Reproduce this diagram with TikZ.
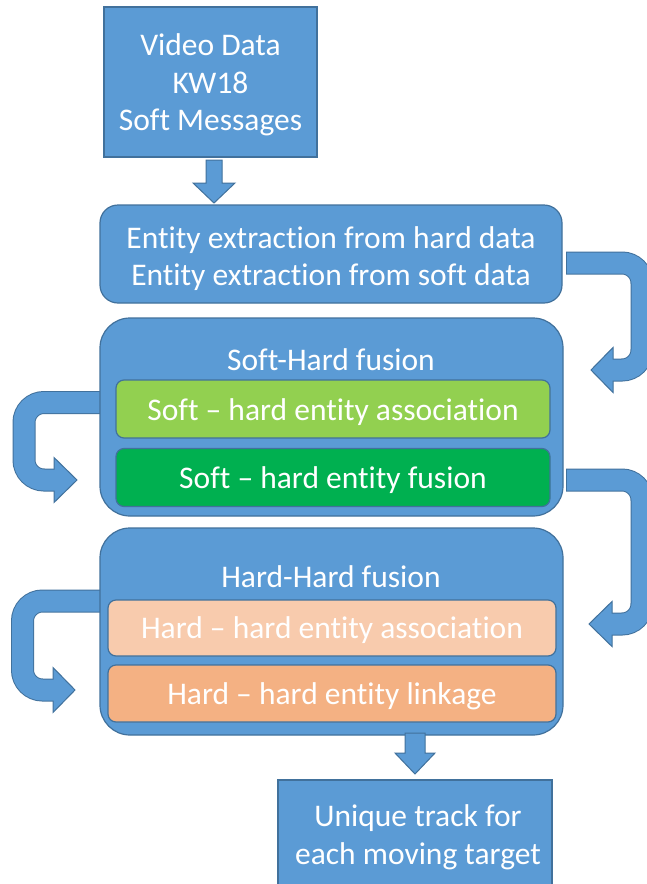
\documentclass[tikz,border=0pt]{standalone}
\usepackage{fontspec}
\setmainfont{Carlito}[Ligatures={NoCommon}]
\definecolor{fillc}{HTML}{5B9BD5}
\definecolor{bord}{HTML}{41719C}
\definecolor{lgreen}{HTML}{92D050}
\definecolor{dgreen}{HTML}{00B050}
\definecolor{peach}{HTML}{F8CBAD}
\definecolor{orng}{HTML}{F4B183}
\newcommand{\bodyfont}{\fontsize{31.5}{37.5}\selectfont}
\tikzset{
  bluebox/.style={draw=bord, fill=fillc, line width=1.2pt, inner sep=0pt},
  innerbox/.style={draw=bord, line width=1.2pt, inner sep=0pt, rounded corners=8pt, minimum width=434pt, minimum height=58pt},
  txt/.style={text=white, font=\bodyfont, align=center, inner sep=0pt},
  shaftout/.style={draw=bord, line width=23pt, rounded corners=20pt},
  shaftin/.style={draw=fillc, line width=21pt, rounded corners=20pt},
  headst/.style={fill=fillc, draw=bord, line width=1pt, line join=miter},
}
\begin{document}
\begin{tikzpicture}[x=1pt,y=-1pt]
\clip (0,0) rectangle (647,884);
\fill[white] (0,0) rectangle (647,884);

% U-turn arrows (drawn first, behind boxes)
% right arrow 1
\coordinate (r1s) at (566,263);
\coordinate (r1h) at (613,370);
\draw[shaftout] (r1s) -- (642,263) -- (642,370) -- (r1h);
\draw[headst] (613,347.5) -- (591,370) -- (613,392.5) -- cycle;
\draw[shaftin] (567,263) -- (642,263) -- (642,370) -- (611,370);
% right arrow 2
\coordinate (r2s) at (566,480);
\coordinate (r2h) at (612,624);
\draw[shaftout] (r2s) -- (642,480) -- (642,624) -- (r2h);
\draw[headst] (612,601.5) -- (589,624) -- (612,646.5) -- cycle;
\draw[shaftin] (567,480) -- (642,480) -- (642,624) -- (610,624);
% left arrow 1
\coordinate (l1s) at (102,402.5);
\coordinate (l1h) at (54,480);
\draw[shaftout] (l1s) -- (24,402.5) -- (24,480) -- (l1h);
\draw[headst] (54,457.5) -- (77,480) -- (54,502.5) -- cycle;
\draw[shaftin] (l1s) -- (24,402.5) -- (24,480) -- (56,480);
% left arrow 2
\coordinate (l2s) at (102,601);
\coordinate (l2h) at (53,690);
\draw[shaftout] (l2s) -- (22.5,601) -- (22.5,690) -- (l2h);
\draw[headst] (53,667.5) -- (75,690) -- (53,712.5) -- cycle;
\draw[shaftin] (l2s) -- (22.5,601) -- (22.5,690) -- (55,690);

% boxes
\node[bluebox, minimum width=213pt, minimum height=150pt] (src) at (210.5,82) {};
\node[txt] (srct) at ([yshift=-3pt]src.center) {Video Data\\KW18\\Soft Messages};
\node[bluebox, rounded corners=18pt, minimum width=462pt, minimum height=98pt] (extract) at (331,254) {};
\node[txt] (extractt) at ([yshift=-4.5pt]extract.center) {Entity extraction from hard data\\Entity extraction from soft data};
\node[bluebox, rounded corners=30pt, minimum width=463pt, minimum height=198pt] (shf) at (331.5,417) {};
\node[txt] (shft) at (331,360) {Soft-Hard fusion};
\node[innerbox, fill=lgreen] (sha) at (333,409) {};
\node[txt] (shat) at ([yshift=-3pt]sha.center) {Soft – hard entity association};
\node[innerbox, fill=dgreen] (shfu) at (333,477.5) {};
\node[txt] (shfut) at ([yshift=-3pt]shfu.center) {Soft – hard entity fusion};
\node[bluebox, rounded corners=30pt, minimum width=463pt, minimum height=207pt] (hhf) at (331.5,631.5) {};
\node[txt] (hhft) at (331,577) {Hard-Hard fusion};
\node[innerbox, fill=peach, minimum width=448pt, minimum height=56pt] (hha) at (332,628) {};
\node[txt] (hhat) at ([yshift=-2.5pt]hha.center) {Hard – hard entity association};
\node[innerbox, fill=orng, minimum width=448pt, minimum height=57pt] (hhl) at (332,693.5) {};
\node[txt] (hhlt) at ([yshift=-2.5pt]hhl.center) {Hard – hard entity linkage};
\node[bluebox, minimum width=274pt, minimum height=109pt] (out) at (415,834.5) {};
\node[txt] (outt) at ([xshift=3pt,yshift=-3pt]out.center) {Unique track for\\each moving target};

% straight down arrows
\draw[headst] (206,160) -- (206,183) -- (193,183) -- (214,203) -- (235,183) -- (222,183) -- (222,160) -- cycle;
\draw[headst] (405,733) -- (405,753) -- (395,753) -- (415,774) -- (435,753) -- (425,753) -- (425,733) -- cycle;
\end{tikzpicture}
\end{document}
